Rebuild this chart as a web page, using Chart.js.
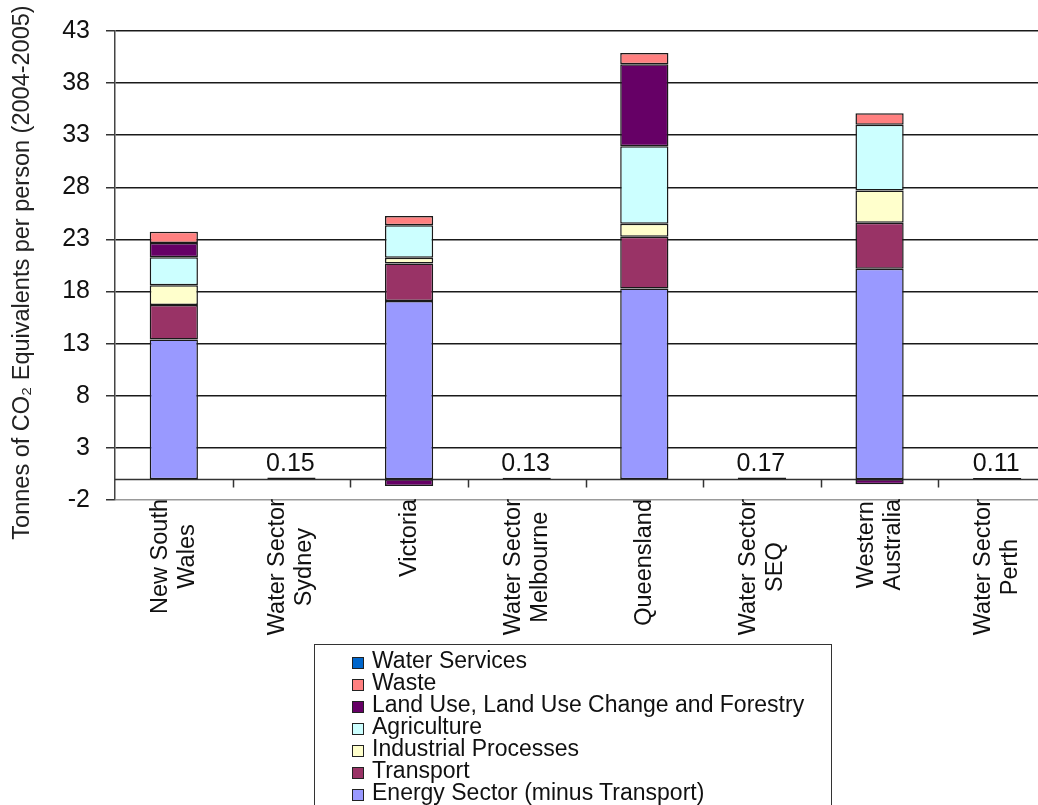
<!DOCTYPE html>
<html lang="en">
<head>
    <meta charset="UTF-8">
    <title>Tonnes of CO2 Equivalents per person</title>
    <script src="https://cdn.jsdelivr.net/npm/chart.js"></script>
    <style>
        body {
            margin: 0;
            background: #fff;
            overflow: hidden;
        }
        .wrap {
            position: relative;
            width: 1038px;
            height: 805px;
            overflow: hidden;
        }
        #chart {
            position: absolute;
            left: 0;
            top: 0;
        }
        .legend {
            position: absolute;
            left: 314px;
            top: 644px;
            width: 518px;
            height: 200px;
            border: 1px solid #333;
            box-sizing: border-box;
            padding: 4px 0 0 37px;
            font-family: Arial, "Liberation Sans", sans-serif;
            font-size: 23px;
            color: #111;
        }
        .legend div {
            height: 22px;
            line-height: 22px;
            white-space: nowrap;
        }
        .legend span {
            display: inline-block;
            width: 10px;
            height: 10px;
            border: 1px solid #222;
            margin-right: 8px;
            position: relative;
            top: 1px;
        }
    </style>
</head>
<body>
<div class="wrap">
    <canvas id="chart" width="1060" height="805"></canvas>
    <div class="legend" id="legend"></div>
</div>

<script>
    // data
    const categories = [
        ['New South', 'Wales'], ['Water Sector', 'Sydney'], ['Victoria'], ['Water Sector', 'Melbourne'],
        ['Queensland'], ['Water Sector', 'SEQ'], ['Western', 'Australia'], ['Water Sector', 'Perth']
    ];
    const energy      = [13.4, null, 17.1, null, 18.3, null, 20.2, null];
    const transport   = [3.3, null, 3.6, null, 4.95, null, 4.4, null];
    const industrial  = [1.9, null, 0.55, null, 1.25, null, 3.1, null];
    const agriculture = [2.7, null, 3.1, null, 7.45, null, 6.3, null];
    const landUse     = [1.35, null, -0.65, null, 7.85, null, -0.5, null];
    const waste       = [1.1, null, 0.9, null, 1.1, null, 1.1, null];
    const water       = [null, 0.15, null, 0.13, null, 0.17, null, 0.11];

    const yTitle = 'Tonnes of CO\u2082 Equivalents per person (2004-2005)';
    const yMin = -2, yMax = 43, yStep = 5;

    const font = 'Arial, "Liberation Sans", sans-serif';

    function ds(label, data, color) {
        return {
            label: label,
            data: data,
            backgroundColor: color,
            borderColor: '#1a1a1a',
            borderWidth: 1.5,
            borderSkipped: false,
            barPercentage: 0.41,
            categoryPercentage: 1
        };
    }

    const datasets = [
        ds('Energy Sector (minus Transport)', energy, '#9999FF'),
        ds('Transport', transport, '#993366'),
        ds('Industrial Processes', industrial, '#FFFFCC'),
        ds('Agriculture', agriculture, '#CCFFFF'),
        ds('Land Use, Land Use Change and Forestry', landUse, '#660066'),
        ds('Waste', waste, '#FF8080'),
        ds('Water Services', water, '#0066CC')
    ];

    // zero line, category ticks, rotated labels, axis title and value labels
    const extras = {
        id: 'extras',
        beforeDatasetsDraw(chart) {
            const ctx = chart.ctx;
            const x = chart.scales.x, y = chart.scales.y;
            const y0 = Math.round(y.getPixelForValue(0)) + 0.5;
            const w = x.width / categories.length;
            ctx.save();
            ctx.strokeStyle = '#333';
            ctx.lineWidth = 1.5;
            ctx.beginPath();
            ctx.moveTo(chart.chartArea.left, y0);
            ctx.lineTo(chart.chartArea.right, y0);
            for (let i = 1; i < categories.length; i++) {
                const bx = Math.round(x.getPixelForTick(i) - w / 2) + 0.5;
                ctx.moveTo(bx, y0);
                ctx.lineTo(bx, y0 + 8);
            }
            ctx.stroke();
            ctx.restore();
        },
        afterDatasetsDraw(chart) {
            const ctx = chart.ctx;
            const x = chart.scales.x;
            const top = chart.chartArea.bottom - 1;
            const lh = 27;
            ctx.save();
            ctx.fillStyle = '#111';
            ctx.font = '23.5px ' + font;
            categories.forEach((lines, i) => {
                const cx = x.getPixelForTick(i);
                const wMax = Math.max(...lines.map(l => ctx.measureText(l).width));
                ctx.save();
                ctx.translate(cx, top);
                ctx.rotate(-Math.PI / 2);
                ctx.textAlign = 'center';
                ctx.textBaseline = 'middle';
                lines.forEach((l, j) => {
                    ctx.fillText(l, -wMax / 2, (j - (lines.length - 1) / 2) * lh);
                });
                ctx.restore();
            });

            // y axis title, a little below the middle of the plot
            ctx.save();
            ctx.fillStyle = '#222';
            ctx.font = '23.5px ' + font;
            ctx.translate(23, (chart.chartArea.top + chart.chartArea.bottom) / 2 + 7);
            ctx.rotate(-Math.PI / 2);
            ctx.textAlign = 'center';
            ctx.textBaseline = 'middle';
            ctx.fillText(yTitle, 0, 0);
            ctx.restore();

            // value labels above the water sector bars
            const meta = chart.getDatasetMeta(datasets.length - 1);
            ctx.font = '25px ' + font;
            ctx.textAlign = 'center';
            ctx.textBaseline = 'bottom';
            meta.data.forEach((el, i) => {
                if (water[i] == null) return;
                ctx.fillText(water[i].toFixed(2), el.x - 1, el.y - 1);
            });
            ctx.restore();
        }
    };

    new Chart(document.getElementById('chart'), {
        type: 'bar',
        data: {
            labels: categories,
            datasets: datasets
        },
        options: {
            responsive: false,
            animation: false,
            layout: {
                padding: { top: 29, left: 0, right: 4, bottom: 0 }
            },
            plugins: {
                legend: { display: false },
                tooltip: { enabled: false }
            },
            scales: {
                x: {
                    stacked: true,
                    grid: { display: false },
                    border: { display: false },
                    ticks: { display: false },
                    afterFit(scale) { scale.height = 305; }
                },
                y: {
                    stacked: true,
                    min: yMin,
                    max: yMax,
                    afterBuildTicks(scale) {
                        const t = [];
                        for (let v = yMin; v <= yMax; v += yStep) t.push({ value: v });
                        scale.ticks = t;
                    },
                    afterFit(scale) { scale.width = 115; },
                    grid: {
                        color: ctx => ctx.tick && ctx.tick.value === yMin ? '#999' : '#1a1a1a',
                        lineWidth: 1.5,
                        tickLength: 9,
                        tickColor: '#333'
                    },
                    border: { color: '#444', width: 1.5 },
                    ticks: {
                        padding: 16,
                        color: '#111',
                        font: { family: font, size: 25 }
                    }
                }
            }
        },
        plugins: [extras]
    });

    // boxed legend, top to bottom in reverse stacking order
    const legend = document.getElementById('legend');
    datasets.slice().reverse().forEach(d => {
        const row = document.createElement('div');
        const box = document.createElement('span');
        box.style.background = d.backgroundColor;
        row.appendChild(box);
        row.appendChild(document.createTextNode(d.label));
        legend.appendChild(row);
    });
</script>
</body>
</html>
